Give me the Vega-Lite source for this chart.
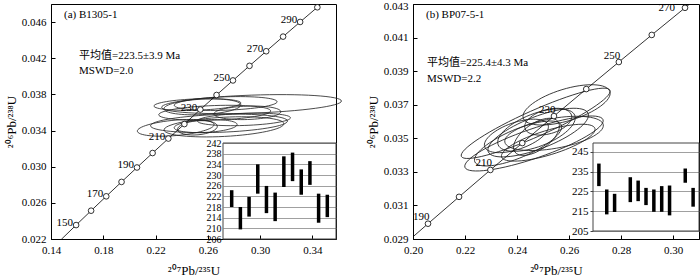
{
  "$schema": "https://vega.github.io/schema/vega-lite/v6.json",
  "background": "white",
  "padding": {"left": 4, "top": 0, "right": 2, "bottom": 0},
  "bounds": "flush",
  "spacing": 77,
  "resolve": {"scale": {"size": "independent"}},
  "config": {
    "font": "Liberation Serif",
    "view": {"stroke": "#000", "strokeWidth": 1},
    "axis": {"labelFont": "Liberation Serif", "labelFontSize": 11, "labelColor": "#000", "titleFont": "Liberation Serif", "titleFontSize": 13, "titleFontWeight": "normal", "titleColor": "#000", "tickColor": "#000", "domainColor": "#000", "grid": false, "tickSize": -4, "labelPadding": 9, "labelFlush": false, "labelOverlap": false, "tickCount": 20}
  },
  "datasets": {
    "conc": [
      {"age": 140, "x": 0.14784, "y": 0.021955},
      {"age": 150, "x": 0.15920, "y": 0.023542},
      {"age": 160, "x": 0.17067, "y": 0.025131},
      {"age": 170, "x": 0.18226, "y": 0.026722},
      {"age": 180, "x": 0.19396, "y": 0.028316},
      {"age": 190, "x": 0.20577, "y": 0.029912},
      {"age": 200, "x": 0.21771, "y": 0.031511},
      {"age": 210, "x": 0.22976, "y": 0.033113},
      {"age": 220, "x": 0.24203, "y": 0.034716},
      {"age": 230, "x": 0.25422, "y": 0.036323},
      {"age": 240, "x": 0.26664, "y": 0.037932},
      {"age": 250, "x": 0.27917, "y": 0.039543},
      {"age": 260, "x": 0.29183, "y": 0.041157},
      {"age": 270, "x": 0.30462, "y": 0.042773},
      {"age": 280, "x": 0.31753, "y": 0.044392},
      {"age": 290, "x": 0.33057, "y": 0.046013},
      {"age": 300, "x": 0.34374, "y": 0.047637},
      {"age": 310, "x": 0.35704, "y": 0.049264}
    ],
    "ellA": [
      {"x": 0.2934, "y": 0.03692, "w": 0.1374, "r": "0.10", "ang": -2},
      {"x": 0.2558, "y": 0.03662, "w": 0.0588, "r": "0.20", "ang": -3},
      {"x": 0.2736, "y": 0.03699, "w": 0.0786, "r": "0.13", "ang": -2},
      {"x": 0.2652, "y": 0.03596, "w": 0.0855, "r": "0.13", "ang": -2},
      {"x": 0.2354, "y": 0.03430, "w": 0.0588, "r": "0.20", "ang": -5},
      {"x": 0.2685, "y": 0.03479, "w": 0.1046, "r": "0.13", "ang": -2},
      {"x": 0.2723, "y": 0.03441, "w": 0.0916, "r": "0.16", "ang": -3},
      {"x": 0.2583, "y": 0.03449, "w": 0.0481, "r": "0.20", "ang": -3},
      {"x": 0.2876, "y": 0.03523, "w": 0.0710, "r": "0.13", "ang": -2},
      {"x": 0.2520, "y": 0.03430, "w": 0.0305, "r": "0.35", "ang": -5},
      {"x": 0.2902, "y": 0.03596, "w": 0.0511, "r": "0.20", "ang": -2},
      {"x": 0.2520, "y": 0.03688, "w": 0.0664, "r": "0.13", "ang": -2}
    ],
    "ellB": [
      {"x": 0.24718, "y": 0.035892, "w": 0.0628, "r": "0.16", "ang": -24},
      {"x": 0.24653, "y": 0.03469, "w": 0.0564, "r": "0.20", "ang": -19},
      {"x": 0.25907, "y": 0.036991, "w": 0.0350, "r": "0.35", "ang": -17},
      {"x": 0.24815, "y": 0.035339, "w": 0.0413, "r": "0.30", "ang": -21},
      {"x": 0.24749, "y": 0.035489, "w": 0.0317, "r": "0.40", "ang": -21},
      {"x": 0.24749, "y": 0.035087, "w": 0.0204, "r": "0.50", "ang": -35},
      {"x": 0.24042, "y": 0.03469, "w": 0.0363, "r": "0.30", "ang": -23},
      {"x": 0.25425, "y": 0.035291, "w": 0.0386, "r": "0.30", "ang": -10},
      {"x": 0.25201, "y": 0.035988, "w": 0.0187, "r": "0.50", "ang": -16},
      {"x": 0.23977, "y": 0.035141, "w": 0.0259, "r": "0.40", "ang": -19},
      {"x": 0.25201, "y": 0.034738, "w": 0.0377, "r": "0.25", "ang": -17}
    ],
    "barsA": [
      {"i": 1, "lo": 218.0, "hi": 224.3},
      {"i": 2, "lo": 209.6, "hi": 218.0},
      {"i": 3, "lo": 214.4, "hi": 221.8},
      {"i": 4, "lo": 223.0, "hi": 234.0},
      {"i": 5, "lo": 215.7, "hi": 225.9},
      {"i": 6, "lo": 212.7, "hi": 223.4},
      {"i": 7, "lo": 225.5, "hi": 237.0},
      {"i": 8, "lo": 227.7, "hi": 238.4},
      {"i": 9, "lo": 222.6, "hi": 232.1},
      {"i": 10, "lo": 226.3, "hi": 235.2},
      {"i": 11, "lo": 212.1, "hi": 223.0},
      {"i": 12, "lo": 214.2, "hi": 222.6}
    ],
    "barsB": [
      {"i": 1, "lo": 227.7, "hi": 239.1},
      {"i": 2, "lo": 213.4, "hi": 226.0},
      {"i": 3, "lo": 214.6, "hi": 223.8},
      {"i": 5, "lo": 219.6, "hi": 232.2},
      {"i": 6, "lo": 220.1, "hi": 230.5},
      {"i": 7, "lo": 218.1, "hi": 226.8},
      {"i": 8, "lo": 214.7, "hi": 226.0},
      {"i": 9, "lo": 214.7, "hi": 227.7},
      {"i": 10, "lo": 212.9, "hi": 228.0},
      {"i": 12, "lo": 229.4, "hi": 236.6},
      {"i": 13, "lo": 217.3, "hi": 226.8}
    ]
  },
  "hconcat": [
    {
      "width": 285,
      "height": 235,
      "resolve": {"scale": {"x": "independent", "y": "independent"}},
      "layer": [
        {
          "layer": [
            {
              "data": {"name": "ellA"},
              "mark": {"type": "point", "filled": false, "color": "#222", "strokeWidth": 0.8, "opacity": 1},
              "encoding": {
                "x": {"field": "x", "type": "quantitative", "scale": {"domain": [0.14, 0.358], "nice": false, "zero": false}, "axis": {"values": [0.14, 0.18, 0.22, 0.26, 0.30, 0.34], "format": ".2f", "title": "²⁰⁷Pb/²³⁵U", "titlePadding": 9, "labelOverlap": false, "tickCount": 20}},
                "y": {"field": "y", "type": "quantitative", "scale": {"domain": [0.022, 0.048], "nice": false, "zero": false}, "axis": {"values": [0.022, 0.026, 0.030, 0.034, 0.038, 0.042, 0.046], "format": ".3f", "title": "²⁰⁶Pb/²³⁸U", "titlePadding": 3, "labelOverlap": false, "tickCount": 20}},
                "size": {"field": "w", "type": "quantitative", "scale": {"type": "pow", "exponent": 2, "domain": [0, 0.2], "range": [0, 68644]}, "legend": null},
                "shape": {"field": "r", "type": "nominal", "scale": {"domain": ["0.10", "0.13", "0.16", "0.20", "0.25", "0.30", "0.35", "0.40", "0.50"], "range": ["M-1,0A1,0.1,0,1,1,1,0A1,0.1,0,1,1,-1,0Z", "M-1,0A1,0.13,0,1,1,1,0A1,0.13,0,1,1,-1,0Z", "M-1,0A1,0.16,0,1,1,1,0A1,0.16,0,1,1,-1,0Z", "M-1,0A1,0.2,0,1,1,1,0A1,0.2,0,1,1,-1,0Z", "M-1,0A1,0.25,0,1,1,1,0A1,0.25,0,1,1,-1,0Z", "M-1,0A1,0.3,0,1,1,1,0A1,0.3,0,1,1,-1,0Z", "M-1,0A1,0.35,0,1,1,1,0A1,0.35,0,1,1,-1,0Z", "M-1,0A1,0.4,0,1,1,1,0A1,0.4,0,1,1,-1,0Z", "M-1,0A1,0.5,0,1,1,1,0A1,0.5,0,1,1,-1,0Z"]}, "legend": null},
                "angle": {"field": "ang", "type": "quantitative", "scale": null}
              }
            },
            {
              "data": {"name": "conc"},
              "mark": {"type": "line", "clip": true, "color": "#000", "strokeWidth": 0.8},
              "encoding": {"x": {"field": "x", "type": "quantitative"}, "y": {"field": "y", "type": "quantitative"}, "order": {"field": "age", "type": "quantitative"}}
            },
            {
              "data": {"name": "conc"},
              "transform": [{"filter": "datum.age >= 150 && datum.age <= 300"}],
              "mark": {"type": "point", "shape": "circle", "fill": "white", "stroke": "#000", "strokeWidth": 0.8, "size": 32, "opacity": 1},
              "encoding": {"x": {"field": "x", "type": "quantitative"}, "y": {"field": "y", "type": "quantitative"}}
            },
            {
              "data": {"name": "conc"},
              "transform": [{"filter": "datum.age >= 150 && datum.age <= 290 && datum.age % 20 == 10"}],
              "mark": {"type": "text", "align": "right", "baseline": "alphabetic", "dx": -3, "dy": 1, "fontSize": 11, "font": "Liberation Serif", "color": "#000"},
              "encoding": {"x": {"field": "x", "type": "quantitative"}, "y": {"field": "y", "type": "quantitative"}, "text": {"field": "age", "type": "nominal"}}
            },
            {
              "data": {"values": [{}]},
              "mark": {"type": "text", "align": "left", "baseline": "alphabetic", "fontSize": 11, "font": "Liberation Serif", "color": "#000"},
              "encoding": {"x": {"datum": 0.150, "type": "quantitative"}, "y": {"datum": 0.046475, "type": "quantitative"}, "text": {"value": "(a) B1305-1"}}
            },
            {
              "data": {"values": [{}]},
              "mark": {"type": "text", "align": "left", "baseline": "alphabetic", "fontSize": 11, "lineHeight": 15, "font": "Liberation Serif, Noto Sans CJK SC", "color": "#000"},
              "encoding": {"x": {"datum": 0.1614, "type": "quantitative"}, "y": {"datum": 0.04189, "type": "quantitative"}, "text": {"value": ["平均值=223.5±3.9 Ma", "MSWD=2.0"]}}
            }
          ]
        },
        {
          "layer": [
            {
              "data": {"values": [{}]},
              "mark": {"type": "rect", "fill": "transparent", "stroke": "#444", "strokeWidth": 1},
              "encoding": {
                "x": {"datum": 0, "type": "quantitative", "scale": {"domain": [0, 13], "range": [172, 285], "nice": false, "zero": false}, "axis": null},
                "x2": {"datum": 13},
                "y": {"datum": 206, "type": "quantitative", "scale": {"domain": [206, 242], "range": [235, 139], "nice": false, "zero": false}, "axis": {"orient": "left", "offset": -172, "values": [206, 210, 214, 218, 222, 226, 230, 234, 238, 242], "tickCount": 20, "grid": true, "gridColor": "#888", "gridWidth": 0.8, "domain": false, "ticks": false, "tickSize": 0, "labelPadding": 2, "labelFontSize": 10, "labelOverlap": false, "title": null}},
                "y2": {"datum": 242}
              }
            },
            {
              "data": {"name": "barsA"},
              "mark": {"type": "rule", "strokeWidth": 3.5, "color": "#000", "strokeCap": "butt"},
              "encoding": {"x": {"field": "i", "type": "quantitative"}, "y": {"field": "lo", "type": "quantitative"}, "y2": {"field": "hi"}}
            }
          ]
        }
      ]
    },
    {
      "width": 286,
      "height": 235,
      "resolve": {"scale": {"x": "independent", "y": "independent"}},
      "layer": [
        {
          "layer": [
            {
              "data": {"name": "ellB"},
              "mark": {"type": "point", "filled": false, "color": "#222", "strokeWidth": 0.8, "opacity": 1},
              "encoding": {
                "x": {"field": "x", "type": "quantitative", "scale": {"domain": [0.20, 0.31], "nice": false, "zero": false}, "axis": {"values": [0.20, 0.22, 0.24, 0.26, 0.28, 0.30], "format": ".2f", "title": "²⁰⁷Pb/²³⁵U", "titlePadding": 9, "labelOverlap": false, "tickCount": 20}},
                "y": {"field": "y", "type": "quantitative", "scale": {"domain": [0.029, 0.043], "nice": false, "zero": false}, "axis": {"values": [0.029, 0.031, 0.033, 0.035, 0.037, 0.039, 0.041, 0.043], "format": ".3f", "title": "²⁰⁶Pb/²³⁸U", "titlePadding": 3, "labelOverlap": false, "tickCount": 20, "labelOffset": {"condition": {"test": "datum.value > 0.0425", "value": 2.5}, "value": 0}}},
                "size": {"field": "w", "type": "quantitative", "scale": {"type": "pow", "exponent": 2, "domain": [0, 0.1], "range": [0, 67081]}, "legend": null},
                "shape": {"field": "r", "type": "nominal", "scale": {"domain": ["0.10", "0.13", "0.16", "0.20", "0.25", "0.30", "0.35", "0.40", "0.50"], "range": ["M-1,0A1,0.1,0,1,1,1,0A1,0.1,0,1,1,-1,0Z", "M-1,0A1,0.13,0,1,1,1,0A1,0.13,0,1,1,-1,0Z", "M-1,0A1,0.16,0,1,1,1,0A1,0.16,0,1,1,-1,0Z", "M-1,0A1,0.2,0,1,1,1,0A1,0.2,0,1,1,-1,0Z", "M-1,0A1,0.25,0,1,1,1,0A1,0.25,0,1,1,-1,0Z", "M-1,0A1,0.3,0,1,1,1,0A1,0.3,0,1,1,-1,0Z", "M-1,0A1,0.35,0,1,1,1,0A1,0.35,0,1,1,-1,0Z", "M-1,0A1,0.4,0,1,1,1,0A1,0.4,0,1,1,-1,0Z", "M-1,0A1,0.5,0,1,1,1,0A1,0.5,0,1,1,-1,0Z"]}, "legend": null},
                "angle": {"field": "ang", "type": "quantitative", "scale": null}
              }
            },
            {
              "data": {"name": "conc"},
              "mark": {"type": "line", "clip": true, "color": "#000", "strokeWidth": 0.8},
              "encoding": {"x": {"field": "x", "type": "quantitative"}, "y": {"field": "y", "type": "quantitative"}, "order": {"field": "age", "type": "quantitative"}}
            },
            {
              "data": {"name": "conc"},
              "transform": [{"filter": "datum.age >= 190 && datum.age <= 270"}],
              "mark": {"type": "point", "shape": "circle", "fill": "white", "stroke": "#000", "strokeWidth": 0.8, "size": 32, "opacity": 1},
              "encoding": {"x": {"field": "x", "type": "quantitative"}, "y": {"field": "y", "type": "quantitative"}}
            },
            {
              "data": {"name": "conc"},
              "transform": [{"filter": "datum.age >= 190 && datum.age <= 250 && datum.age % 20 == 10"}],
              "mark": {"type": "text", "align": "right", "baseline": "alphabetic", "dx": 1.5, "dy": -3.5, "fontSize": 11, "font": "Liberation Serif", "color": "#000"},
              "encoding": {"x": {"field": "x", "type": "quantitative"}, "y": {"field": "y", "type": "quantitative"}, "text": {"field": "age", "type": "nominal"}}
            },
            {
              "data": {"name": "conc"},
              "transform": [{"filter": "datum.age == 270"}],
              "mark": {"type": "text", "align": "right", "baseline": "alphabetic", "dx": -10, "dy": 3, "fontSize": 11, "font": "Liberation Serif", "color": "#000"},
              "encoding": {"x": {"field": "x", "type": "quantitative"}, "y": {"field": "y", "type": "quantitative"}, "text": {"field": "age", "type": "nominal"}}
            },
            {
              "data": {"values": [{}]},
              "mark": {"type": "text", "align": "left", "baseline": "alphabetic", "fontSize": 11, "font": "Liberation Serif", "color": "#000"},
              "encoding": {"x": {"datum": 0.205, "type": "quantitative"}, "y": {"datum": 0.042159, "type": "quantitative"}, "text": {"value": "(b) BP07-5-1"}}
            },
            {
              "data": {"values": [{}]},
              "mark": {"type": "text", "align": "left", "baseline": "alphabetic", "fontSize": 11, "lineHeight": 16, "font": "Liberation Serif, Noto Sans CJK SC", "color": "#000"},
              "encoding": {"x": {"datum": 0.2054, "type": "quantitative"}, "y": {"datum": 0.039335, "type": "quantitative"}, "text": {"value": ["平均值=225.4±4.3 Ma", "MSWD=2.2"]}}
            }
          ]
        },
        {
          "layer": [
            {
              "data": {"values": [{}]},
              "mark": {"type": "rect", "fill": "transparent", "stroke": "#444", "strokeWidth": 1},
              "encoding": {
                "x": {"datum": 0.25, "type": "quantitative", "scale": {"domain": [0.25, 13.75], "range": [180, 286], "nice": false, "zero": false}, "axis": null},
                "x2": {"datum": 13.75},
                "y": {"datum": 205, "type": "quantitative", "scale": {"domain": [205, 249.5], "range": [227, 139], "nice": false, "zero": false}, "axis": {"orient": "left", "offset": -180, "values": [205, 215, 225, 235, 245], "tickCount": 20, "grid": true, "gridColor": "#888", "gridWidth": 0.8, "domain": false, "ticks": true, "tickSize": 3, "tickColor": "#444", "labelPadding": 2, "labelFontSize": 11, "labelOverlap": false, "title": null}},
                "y2": {"datum": 249.5}
              }
            },
            {
              "data": {"name": "barsB"},
              "mark": {"type": "rule", "strokeWidth": 3.5, "color": "#000", "strokeCap": "butt"},
              "encoding": {"x": {"field": "i", "type": "quantitative"}, "y": {"field": "lo", "type": "quantitative"}, "y2": {"field": "hi"}}
            }
          ]
        }
      ]
    }
  ]
}
